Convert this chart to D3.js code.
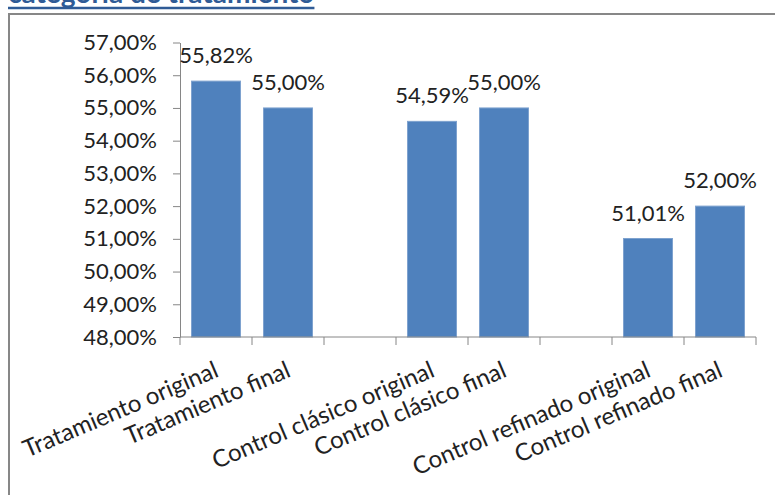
<!DOCTYPE html>
<html>
<head>
<meta charset="utf-8">
<script src="https://cdn.jsdelivr.net/npm/d3@7/dist/d3.min.js"></script>
<style>
  html, body { margin: 0; padding: 0; background: #fff; }
  svg { display: block; }
</style>
</head>
<body>
<div id="chart"></div>
<script>
// data
const categories = [
  'Tratamiento original', 'Tratamiento final', '',
  'Control clásico original', 'Control clásico final', '',
  'Control refinado original', 'Control refinado final'
];
const values = [55.82, 55.00, null, 54.59, 55.00, null, 51.01, 52.00];
const yTicks = [48, 49, 50, 51, 52, 53, 54, 55, 56, 57];
const titleText = 'categoría de tratamiento';

const W = 775, H = 495;
const font = 'Lato, "Open Sans", sans-serif';
const fmt = d => d.toFixed(2).replace('.', ',') + '%';

const svg = d3.select('#chart').append('svg')
  .attr('width', W).attr('height', H);

// clipped heading above the chart box
const title = svg.append('text')
  .attr('x', 8).attr('y', 3)
  .style('font-family', font)
  .style('font-size', '28px')
  .style('font-weight', 'bold')
  .style('fill', '#2f5b96')
  .text(titleText);
const tw = title.node().getComputedTextLength();
svg.append('line')
  .attr('x1', 8).attr('x2', 8 + tw)
  .attr('y1', 8).attr('y2', 8)
  .attr('stroke', '#2f5b96').attr('stroke-width', 2.5);

// chart frame (runs off the right and bottom of the picture)
svg.append('rect')
  .attr('x', 9).attr('y', 14)
  .attr('width', W).attr('height', H)
  .attr('fill', 'none')
  .attr('stroke', '#878787').attr('stroke-width', 2);

const x = d3.scaleBand()
  .domain(d3.range(categories.length))
  .range([180, 756])
  .paddingInner(0.32)
  .paddingOuter(0.16);

const y = d3.scaleLinear()
  .domain([48, 57])
  .range([337, 42.5]);

const axisColor = '#868686';

// y axis
const yAxis = svg.append('g')
  .attr('transform', `translate(${x.range()[0]},0)`)
  .call(d3.axisLeft(y).tickValues(yTicks).tickFormat(fmt).tickSize(7).tickSizeOuter(0));
yAxis.select('.domain').attr('stroke', axisColor);
yAxis.selectAll('.tick line').attr('stroke', axisColor);
yAxis.selectAll('.tick text')
  .attr('x', -23)
  .style('font-family', font)
  .style('font-size', '22px')
  .style('fill', '#222');

// bars
const rows = categories.map((c, i) => ({ i, c, v: values[i] }));
svg.append('g').selectAll('rect')
  .data(rows.filter(d => d.v != null))
  .join('rect')
  .attr('x', d => x(d.i))
  .attr('y', d => y(d.v))
  .attr('width', x.bandwidth())
  .attr('height', d => y(48) - y(d.v))
  .attr('fill', '#4f81bd')
  .attr('stroke', '#7ea2cf')
  .attr('stroke-width', 1);

// x axis line with ticks between categories (Excel style)
const step = x.step();
const x0 = x.range()[0];
const bounds = d3.range(categories.length + 1).map(k => x0 + k * step);
const xg = svg.append('g');
xg.append('line')
  .attr('x1', x0).attr('x2', x.range()[1])
  .attr('y1', y(48)).attr('y2', y(48))
  .attr('stroke', axisColor);
xg.selectAll('line.tk')
  .data(bounds)
  .join('line')
  .attr('class', 'tk')
  .attr('x1', d => d).attr('x2', d => d)
  .attr('y1', y(48)).attr('y2', y(48) + 8)
  .attr('stroke', axisColor);

// rotated category labels
xg.selectAll('text.cat')
  .data(rows.filter(d => d.c))
  .join('text')
  .attr('class', 'cat')
  .attr('text-anchor', 'end')
  .attr('transform', d => `translate(${x(d.i) + x.bandwidth() / 2 + 4},${y(48) + 39}) rotate(-23)`)
  .style('font-family', font)
  .style('font-size', '24px')
  .style('fill', '#222')
  .text(d => d.c);

// data labels
svg.append('g').selectAll('text')
  .data(rows.filter(d => d.v != null))
  .join('text')
  .attr('x', d => x(d.i) + x.bandwidth() / 2)
  .attr('y', d => y(d.v) - 18)
  .attr('text-anchor', 'middle')
  .style('font-family', font)
  .style('font-size', '22px')
  .style('fill', '#222')
  .text(d => fmt(d.v));
</script>
</body>
</html>
